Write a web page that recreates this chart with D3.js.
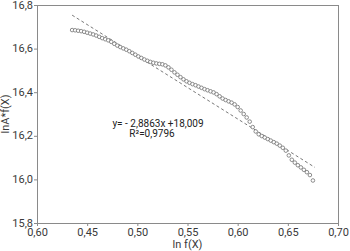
<!DOCTYPE html>
<html>
<head>
<meta charset="utf-8">
<script src="https://cdn.jsdelivr.net/npm/d3@7"></script>
<style>
  body { margin: 0; background: #fff; }
  #chart { width: 350px; height: 251px; }
  .chart-labels { font-family: Roboto, "DejaVu Sans", sans-serif; font-size: 11px; fill: #3a3a3a; }
  .eq-labels { font-family: Roboto, "DejaVu Sans", sans-serif; font-size: 10px; fill: #222; }
</style>
</head>
<body>
<div id="chart"></div>
<script>
// data
const lnF = [
  0.435, 0.438, 0.441, 0.444, 0.447, 0.450, 0.453, 0.456, 0.459, 0.462,
  0.465, 0.468, 0.471, 0.474, 0.477, 0.480, 0.483, 0.486, 0.489, 0.492,
  0.495, 0.498, 0.501, 0.504, 0.507, 0.510, 0.513, 0.516, 0.519, 0.522,
  0.525, 0.528, 0.531, 0.534, 0.537, 0.540, 0.543, 0.546, 0.549, 0.552,
  0.555, 0.558, 0.561, 0.564, 0.567, 0.570, 0.573, 0.576, 0.579, 0.582,
  0.585, 0.588, 0.591, 0.594, 0.597, 0.600, 0.603, 0.606, 0.609, 0.612,
  0.615, 0.618, 0.621, 0.624, 0.627, 0.630, 0.633, 0.636, 0.639, 0.642,
  0.645, 0.648, 0.651, 0.654, 0.657, 0.660, 0.663, 0.666, 0.669, 0.672,
  0.675
];
const lnAf = [
  16.685, 16.684, 16.682, 16.680, 16.677, 16.673, 16.669, 16.665, 16.660, 16.654,
  16.648, 16.643, 16.638, 16.631, 16.622, 16.614, 16.607, 16.601, 16.595, 16.588,
  16.580, 16.572, 16.564, 16.557, 16.550, 16.544, 16.539, 16.535, 16.532, 16.530,
  16.528, 16.523, 16.514, 16.503, 16.491, 16.480, 16.469, 16.459, 16.450, 16.443,
  16.437, 16.432, 16.426, 16.420, 16.414, 16.409, 16.404, 16.399, 16.391, 16.381,
  16.371, 16.364, 16.358, 16.352, 16.344, 16.332, 16.316, 16.300, 16.284, 16.265,
  16.240, 16.220, 16.207, 16.199, 16.192, 16.185, 16.178, 16.171, 16.164, 16.155,
  16.145, 16.132, 16.110, 16.090, 16.077, 16.065, 16.055, 16.044, 16.033, 16.020,
  15.995
];

// trend line
const slope = -2.8863;
const intercept = 18.009;
const fitRange = [0.435, 0.677];

const xTicks = [0.40, 0.45, 0.50, 0.55, 0.60, 0.65, 0.70];
const xTickLabels = ["0,60", "0,45", "0,50", "0,55", "0,60", "0,65", "0,70"];
const yTicks = [15.8, 16.0, 16.2, 16.4, 16.6, 16.8];
const yTickLabels = ["15,8", "16,0", "16,2", "16,4", "16,6", "16,8"];

/* ----------------------- Dimensions ----------------------- */
const W = 350, H = 251;
const margin = { top: 5, right: 12, bottom: 28, left: 37 };
const width = W - margin.left - margin.right;
const height = H - margin.top - margin.bottom;

const svg = d3.select("#chart")
  .append("svg")
  .attr("width", W)
  .attr("height", H)
  .append("g")
  .attr("transform", `translate(${margin.left},${margin.top})`);

/* ----------------------- Scales ----------------------- */
const x = d3.scaleLinear().domain([0.40, 0.70]).range([0, width]);
const y = d3.scaleLinear().domain([15.8, 16.8]).range([height, 0]);

const frameColor = "#8a8a8a";

// frame
svg.append("rect")
  .attr("width", width)
  .attr("height", height)
  .attr("fill", "none")
  .attr("stroke", frameColor)
  .attr("stroke-width", 1)
  .attr("shape-rendering", "crispEdges");

/* ----------------------- Axes ----------------------- */
const xAxis = d3.axisBottom(x)
  .tickValues(xTicks)
  .tickSize(3)
  .tickFormat((d, i) => xTickLabels[i]);

const xAxisGroup = svg.append("g")
  .attr("transform", `translate(0,${height})`)
  .call(xAxis);
xAxisGroup.select(".domain").remove();
xAxisGroup.selectAll(".tick line").attr("stroke", frameColor);
xAxisGroup.selectAll(".tick text")
  .attr("class", "chart-labels")
  .attr("dy", "0.71em")
  .attr("y", 5);

const yAxis = d3.axisLeft(y)
  .tickValues(yTicks)
  .tickSize(3)
  .tickFormat((d, i) => yTickLabels[i]);

const yAxisGroup = svg.append("g").call(yAxis);
yAxisGroup.select(".domain").remove();
yAxisGroup.selectAll(".tick line").attr("stroke", frameColor);
yAxisGroup.selectAll(".tick text")
  .attr("class", "chart-labels")
  .attr("x", -4)
  .attr("dy", "0.28em");

// axis titles
svg.append("text")
  .attr("class", "chart-labels")
  .attr("text-anchor", "middle")
  .attr("x", width / 2)
  .attr("y", height + 25)
  .text("ln f(X)");

svg.append("text")
  .attr("class", "chart-labels")
  .attr("text-anchor", "middle")
  .attr("transform", `translate(${-28},${height / 2}) rotate(-90)`)
  .text("lnA*f(X)");

/* ----------------------- Trend line ----------------------- */
svg.append("line")
  .attr("x1", x(fitRange[0]))
  .attr("y1", y(slope * fitRange[0] + intercept))
  .attr("x2", x(fitRange[1]))
  .attr("y2", y(slope * fitRange[1] + intercept))
  .attr("stroke", "#555")
  .attr("stroke-width", 0.8)
  .attr("stroke-dasharray", "3,2.5");

/* ----------------------- Points ----------------------- */
const points = lnF.map((d, i) => ({ x: d, y: lnAf[i] }));

svg.selectAll(".pt")
  .data(points)
  .enter()
  .append("circle")
  .attr("class", "pt")
  .attr("cx", (d) => x(d.x))
  .attr("cy", (d) => y(d.y))
  .attr("r", 1.8)
  .attr("fill", "#fff")
  .attr("stroke", "#707070")
  .attr("stroke-width", 0.8);

/* ----------------------- Equation ----------------------- */
svg.append("text")
  .attr("class", "eq-labels")
  .attr("text-anchor", "middle")
  .attr("x", 158 - margin.left)
  .attr("y", 127 - margin.top)
  .text("y= - 2,8863x +18,009");

svg.append("text")
  .attr("class", "eq-labels")
  .attr("text-anchor", "middle")
  .attr("x", 152 - margin.left)
  .attr("y", 137 - margin.top)
  .text("R²=0,9796");
</script>
</body>
</html>
